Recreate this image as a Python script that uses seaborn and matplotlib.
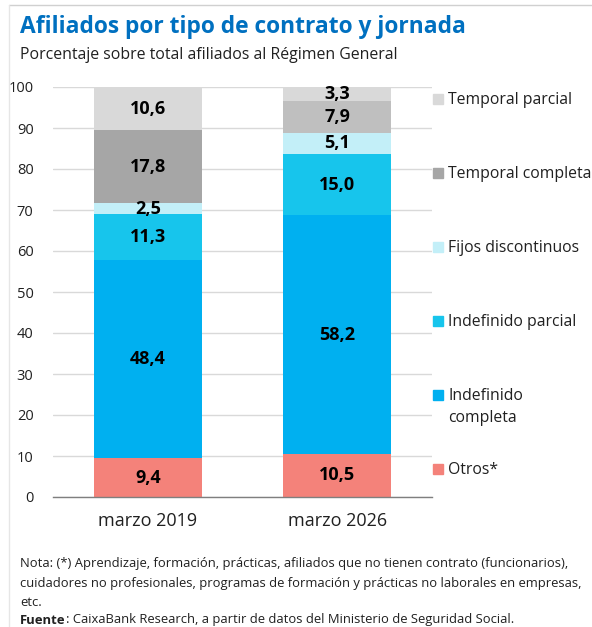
import matplotlib
matplotlib.use("Agg")
import matplotlib.pyplot as plt
from matplotlib.lines import Line2D
import seaborn as sns
import numpy as np
import pandas as pd

categories = ["marzo 2019", "marzo 2026"]
series_names = ["Otros*", "Indefinido\ncompleta", "Indefinido parcial",
                "Fijos discontinuos", "Temporal completa", "Temporal parcial"]
otros = [9.4, 10.5]
indef_completa = [48.4, 58.2]
indef_parcial = [11.3, 15.0]
fijos_disc = [2.5, 5.1]
temp_completa = [17.8, 7.9]
temp_parcial = [10.6, 3.3]
yticks = [0, 10, 20, 30, 40, 50, 60, 70, 80, 90, 100]

series_values = [otros, indef_completa, indef_parcial, fijos_disc, temp_completa, temp_parcial]
bar_colors = [["#F4827A", "#F4827A"], ["#00B0F0", "#00B0F0"], ["#17C5EC", "#17C5EC"],
              ["#C3EFF8", "#C3EFF8"], ["#A6A6A6", "#BFBFBF"], ["#D9D9D9", "#D9D9D9"]]
legend_colors = ["#F4827A", "#00B0F0", "#17C5EC", "#C3EFF8", "#A6A6A6", "#D9D9D9"]

sns.set_theme(style="white")
plt.rcParams["font.family"] = ["Open Sans", "DejaVu Sans"]

W, H = 592, 627
fig = plt.figure(figsize=(W / 100, H / 100), dpi=100)
ax = fig.add_axes([53 / W, 1 - 497 / H, 379 / W, 410 / H])

vals = np.array(series_values)
cum = np.cumsum(vals, axis=0)
for i in range(len(series_values) - 1, -1, -1):
    df = pd.DataFrame({"cat": categories, "top": cum[i]})
    sns.barplot(data=df, x="cat", y="top", hue="cat", palette=bar_colors[i],
                legend=False, width=0.572, saturation=1, ax=ax, zorder=2,
                linewidth=0)

for j in range(len(categories)):
    for i in range(len(series_values)):
        v = vals[i, j]
        center = cum[i, j] - v / 2
        ax.text(j, center, f"{v:.1f}".replace(".", ","), ha="center", va="center",
                fontsize=13, fontweight="bold", color="black", zorder=3)

ax.set_xlim(-0.5, 1.5)
ax.set_ylim(0, 100)
ax.set_yticks(yticks)
ax.set_yticklabels([str(t) for t in yticks], fontsize=10.5, color="#202020")
ax.yaxis.grid(True, color="#D9D9D9", linewidth=1)
ax.set_axisbelow(True)
ax.set_xlabel("")
ax.set_ylabel("")
ax.tick_params(axis="x", labelsize=13, pad=11, length=0, labelcolor="#202020")
ax.tick_params(axis="y", length=0, pad=14)
for s in ["top", "right", "left"]:
    ax.spines[s].set_visible(False)
ax.spines["bottom"].set_color("#7F7F7F")
ax.spines["bottom"].set_linewidth(1)
# category boundary ticks
ax.set_xticks([-0.5, 0.5, 1.5], minor=True)
ax.tick_params(axis="x", which="minor", length=6, width=1, color="#A6A6A6", direction="out")

# legend (top series first)
for k, i in enumerate(range(len(series_names) - 1, -1, -1)):
    ypx = 99 + 74 * k
    fig.patches.append(plt.Rectangle((433 / W, 1 - (ypx + 5) / H), 10 / W, 10 / H,
                                     transform=fig.transFigure, color=legend_colors[i],
                                     figure=fig))
    fig.text(448 / W, 1 - (ypx - 7) / H, series_names[i], fontsize=11.3, va="top",
             ha="left", linespacing=1.5, color="#202020")

# frame lines
fig.add_artist(Line2D([9 / W, 1], [1 - 5 / H, 1 - 5 / H], transform=fig.transFigure,
                      color="#D0D0D0", linewidth=1))
fig.add_artist(Line2D([9 / W, 9 / W], [1 - 5 / H, 0], transform=fig.transFigure,
                      color="#E6E6E6", linewidth=1))

fig.text(20 / W, 1 - 27 / H, "Afiliados por tipo de contrato y jornada", fontsize=16.4,
         fontweight="bold", color="#0070C0", va="center", ha="left")
fig.text(20 / W, 1 - 55 / H, "Porcentaje sobre total afiliados al Régimen General",
         fontsize=11.4, va="center", ha="left", color="#202020")

note_lines = ["Nota: (*) Aprendizaje, formación, prácticas, afiliados que no tienen contrato (funcionarios),",
              "cuidadores no profesionales, programas de formación y prácticas no laborales en empresas,",
              "etc."]
for n, line in enumerate(note_lines):
    fig.text(20 / W, 1 - (564 + 19 * n) / H, line, fontsize=9.35, va="center", ha="left",
             color="#202020")
t_f = fig.text(20 / W, 1 - 620 / H, "Fuente", fontsize=9.35, fontweight="bold", va="center",
               ha="left", color="#202020")
fig.canvas.draw()
bb = t_f.get_window_extent(renderer=fig.canvas.get_renderer())
fig.text(bb.x1 / W, 1 - 620 / H,
         ": CaixaBank Research, a partir de datos del Ministerio de Seguridad Social.",
         fontsize=9.35, va="center", ha="left", color="#202020")

fig.savefig("out.png", dpi=100)
